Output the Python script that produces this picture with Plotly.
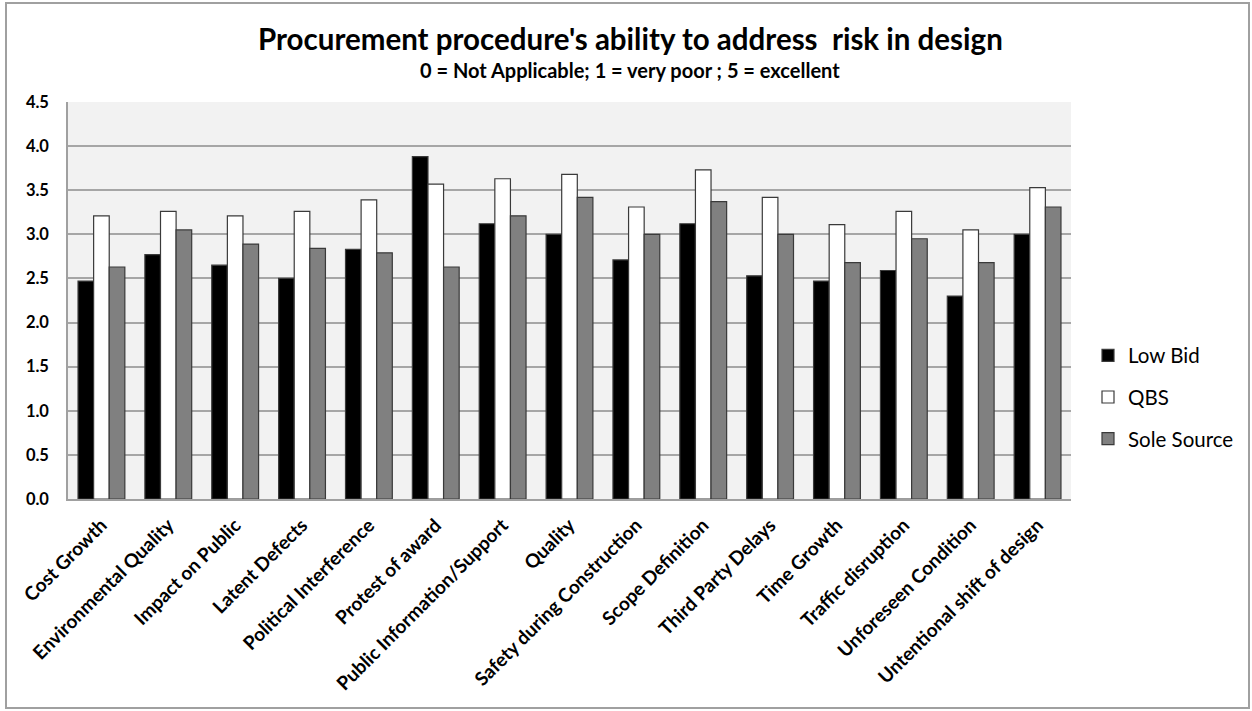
import plotly.graph_objects as go

categories = [
    "Cost Growth", "Environmental Quality", "Impact on Public", "Latent Defects",
    "Political Interference", "Protest of award", "Public Information/Support",
    "Quality", "Safety during Construction", "Scope Definition",
    "Third Party Delays", "Time Growth", "Traffic disruption",
    "Unforeseen Condition", "Untentional shift of design",
]
low_bid = [2.47, 2.77, 2.65, 2.50, 2.83, 3.88, 3.12, 3.00, 2.71, 3.12, 2.53, 2.47, 2.59, 2.30, 3.00]
qbs = [3.21, 3.26, 3.21, 3.26, 3.39, 3.57, 3.63, 3.68, 3.31, 3.73, 3.42, 3.11, 3.26, 3.05, 3.53]
sole_source = [2.63, 3.05, 2.89, 2.84, 2.79, 2.63, 3.21, 3.42, 3.00, 3.37, 3.00, 2.68, 2.95, 2.68, 3.31]
y_ticks = [0.0, 0.5, 1.0, 1.5, 2.0, 2.5, 3.0, 3.5, 4.0, 4.5]

FONT = "Lato, 'Open Sans', Arial, sans-serif"
OUTLINE = "#3a3a3a"

series = [
    ("Low Bid", low_bid, "#000000"),
    ("QBS", qbs, "#ffffff"),
    ("Sole Source", sole_source, "#808080"),
]

fig = go.Figure()
for i, (name, vals, color) in enumerate(series):
    fig.add_trace(go.Bar(
        x=categories, y=vals, name=name,
        marker=dict(color=color, line=dict(color=OUTLINE, width=1.2)),
        legendgroup=f"g{i}",
    ))

W, H = 1252, 711
ml, mr, mt, mb = 68, 181, 102, 212
pw, ph = W - ml - mr, H - mt - mb


def px_x(x):
    return (x - ml) / pw


def px_y(y):
    return (mt + ph - y) / ph


fig.update_layout(
    width=W, height=H,
    margin=dict(l=ml, r=mr, t=mt, b=mb),
    paper_bgcolor="#ffffff",
    plot_bgcolor="#f2f2f2",
    barmode="group", bargap=0.3, bargroupgap=0.0,
    font=dict(family=FONT, color="#000000"),
    showlegend=True,
    legend=dict(
        x=px_x(1088), xanchor="left",
        y=px_y(397), yanchor="middle",
        font=dict(size=20.5, family=FONT, color="#000000"),
        tracegroupgap=12, bgcolor="rgba(0,0,0,0)",
        itemwidth=30,
    ),
    xaxis=dict(
        tickangle=-45, tickfont=dict(size=19, family=FONT, color="#000000", weight="bold"),
        showline=True, linecolor="#a0a0a0", linewidth=1.5,
        ticks="", showgrid=False, ticklabelstandoff=6,
    ),
    yaxis=dict(
        range=[0, 4.5], tickvals=y_ticks, tickformat=".1f",
        tickfont=dict(size=16.5, family=FONT, color="#000000", weight="bold"),
        showgrid=True, gridcolor="#a6a6a6", gridwidth=1.5,
        showline=True, linecolor="#a0a0a0", linewidth=1.5,
        zeroline=False, ticks="", ticklabelstandoff=14,
    ),
    annotations=[
        dict(text="<b>Procurement procedure's ability to address  risk in design</b>",
             xref="paper", yref="paper", x=px_x(630), y=px_y(38),
             xanchor="center", yanchor="middle", showarrow=False,
             font=dict(size=29.5, family=FONT, color="#000000")),
        dict(text="<b>0 = Not Applicable; 1 = very poor ; 5 = excellent</b>",
             xref="paper", yref="paper", x=px_x(630), y=px_y(70),
             xanchor="center", yanchor="middle", showarrow=False,
             font=dict(size=20, family=FONT, color="#000000")),
    ],
    shapes=[
        dict(type="rect", xref="paper", yref="paper",
             x0=px_x(6), x1=px_x(1249),
             y0=px_y(708), y1=px_y(3),
             line=dict(color="#a0a0a0", width=2), fillcolor="rgba(0,0,0,0)", layer="below"),
    ],
)

fig.write_html("out.html")
